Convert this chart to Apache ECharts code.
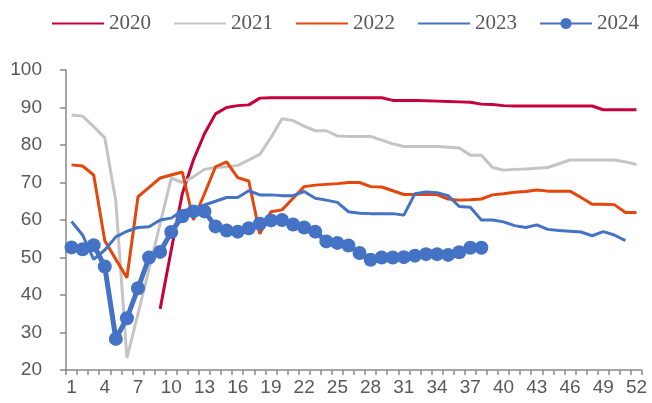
<!DOCTYPE html>
<html>
<head>
<meta charset="utf-8">
<script src="https://cdn.jsdelivr.net/npm/echarts@6/dist/echarts.min.js"></script>
<style>html,body{margin:0;padding:0;background:#fff;}#c{width:652px;height:403px;}</style>
</head>
<body>
<div id="c"></div>
<script>
const weeks = ['1','2','3','4','5','6','7','8','9','10','11','12','13','14','15','16','17','18','19','20','21','22','23','24','25','26','27','28','29','30','31','32','33','34','35','36','37','38','39','40','41','42','43','44','45','46','47','48','49','50','51','52'];
const yTicks = [20, 100, 10]; // min, max, interval
const s2020 = [null,null,null,null,null,null,null,null,36.3,52,67,76,83,88.3,90,90.5,90.7,92.5,92.6,92.6,92.6,92.6,92.6,92.6,92.6,92.6,92.6,92.6,92.6,91.9,91.9,91.9,91.8,91.7,91.6,91.5,91.4,90.9,90.8,90.5,90.4,90.4,90.4,90.4,90.4,90.4,90.4,90.4,89.4,89.4,89.4,89.4];
const s2021 = [88,87.7,84.9,81.9,65,23.2,35,47,59,71.2,70,71.5,73.5,74,74.2,74.5,76,77.5,82,87,86.5,85,83.8,83.8,82.4,82.3,82.3,82.3,81.3,80.3,79.6,79.6,79.6,79.6,79.4,79.2,77.3,77.3,74,73.3,73.5,73.6,73.8,74,75,76,76,76,76,76,75.5,74.8];
const s2022 = [74.7,74.4,72,54.5,49.5,44.6,66.2,68.7,71.2,72,72.8,60,67,74.2,75.5,71.3,70.4,56.3,62.2,62.7,65.8,68.9,69.3,69.5,69.7,70,70,68.9,68.8,67.8,66.8,66.8,66.8,66.8,65.6,65.3,65.4,65.6,66.7,67,67.4,67.6,68,67.7,67.7,67.7,66,64.2,64.2,64.1,62,62];
const s2023 = [59.6,56,49.5,52,55.5,57,58,58.2,60,60.5,62.5,63,64,65,66,66,67.8,66.7,66.7,66.5,66.5,67.6,65.8,65.3,64.7,62.2,61.8,61.7,61.7,61.7,61.3,67,67.5,67.3,66.5,63.6,63.4,60,60,59.5,58.5,58,58.7,57.5,57.2,57,56.8,55.8,56.9,56,54.5,null];
const s2024 = [52.7,52.2,53.3,47.6,28.3,33.8,41.8,50,51.5,56.8,61,62.3,62.3,58.3,57.2,56.9,57.8,59,59.9,60,58.8,58,56.9,54.3,53.9,53.2,51.2,49.4,50,50,50.1,50.5,50.9,50.9,50.7,51.4,52.6,52.6,null,null,null,null,null,null,null,null,null,null,null,null,null,null];
const names = ['2020','2021','2022','2023','2024'];
const colors = ['#C5003C','#C4C4C4','#E5460C','#4472C4','#4472C4'];

const chart = echarts.init(document.getElementById('c'), null, {renderer:'canvas'});
function lineSeries(name, data, color, width, marker) {
  return {
    name: name, type: 'line', data: data, connectNulls: false,
    symbol: marker ? 'circle' : 'none', symbolSize: marker ? 14 : 0,
    showSymbol: !!marker, showAllSymbol: true,
    lineStyle: {color: color, width: width},
    itemStyle: {color: marker ? color : 'rgba(0,0,0,0)'},
    emphasis: {disabled: true}, animation: false
  };
}
chart.setOption({
  animation: false,
  legend: {
    top: 8, left: 46, itemWidth: 52, itemHeight: 14, itemGap: 22,
    textStyle: {fontFamily: 'Liberation Serif', fontSize: 21, color: '#595959'},
    data: names
  },
  grid: {left: 66, right: 10, top: 70, bottom: 33},
  xAxis: {
    type: 'category', data: weeks, boundaryGap: true,
    axisLine: {lineStyle: {color: '#898989', width: 1.5}},
    axisTick: {show: true, interval: 0, length: 5, lineStyle: {color: '#898989', width: 1.5}},
    axisLabel: {interval: 2, color: '#595959', fontFamily: 'Liberation Sans', fontSize: 19, margin: 8}
  },
  yAxis: {
    type: 'value', min: yTicks[0], max: yTicks[1], interval: yTicks[2],
    axisLine: {show: true, lineStyle: {color: '#898989', width: 1.5}},
    axisTick: {show: true, length: 6, lineStyle: {color: '#898989', width: 1.5}},
    splitLine: {show: false},
    axisLabel: {color: '#595959', fontFamily: 'Liberation Sans', fontSize: 19, margin: 24}
  },
  series: [
    lineSeries(names[0], s2020, colors[0], 3, false),
    lineSeries(names[1], s2021, colors[1], 3, false),
    lineSeries(names[2], s2022, colors[2], 3, false),
    lineSeries(names[3], s2023, colors[3], 3, false),
    lineSeries(names[4], s2024, colors[4], 5, true)
  ]
});
</script>
</body>
</html>
